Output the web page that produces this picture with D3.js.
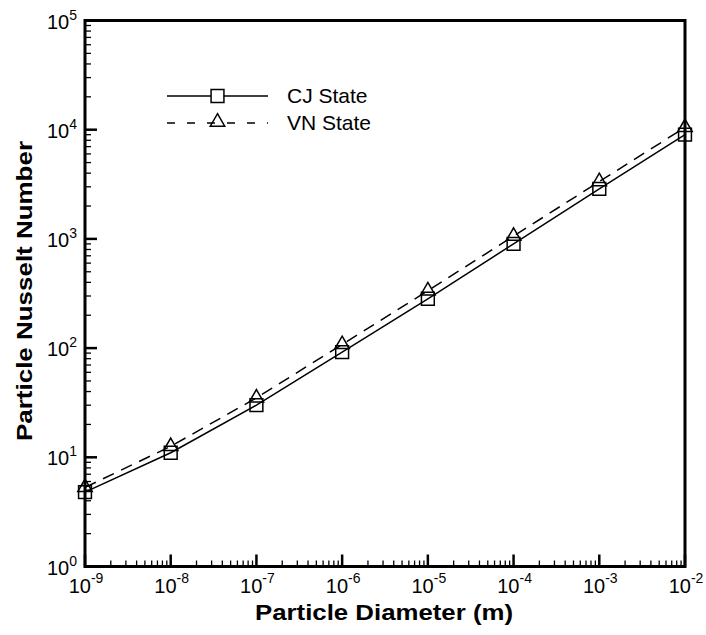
<!DOCTYPE html>
<html>
<head>
<meta charset="utf-8">
<script src="https://cdn.jsdelivr.net/npm/d3@7"></script>
<style>
  body { margin: 0; background: #fff; }
  text { font-family: "Liberation Sans", Arial, sans-serif; }
</style>
</head>
<body>
<svg width="706" height="635"></svg>
<script>
// data
var diameters = [1e-9, 1e-8, 1e-7, 1e-6, 1e-5, 1e-4, 1e-3, 1e-2];
var cjNusselt = [4.8, 11, 30, 92, 283, 900, 2870, 9000];
var vnNusselt = [5.3, 12.6, 35, 108, 335, 1060, 3350, 10500];
var xExponents = [-9, -8, -7, -6, -5, -4, -3, -2];
var yExponents = [0, 1, 2, 3, 4, 5];
var seriesNames = ["CJ State", "VN State"];

var svg = d3.select("svg");
var plotLeft = 85, plotRight = 685, plotTop = 20.5, plotBottom = 566.5;

var x = d3.scaleLog().domain([1e-9, 1e-2]).range([plotLeft, plotRight]);
var y = d3.scaleLog().domain([1, 1e5]).range([plotBottom, plotTop]);

// minor + major ticks, drawn inward
function logTicks(lo, hi) {
    var out = [];
    for (var e = lo; e < hi; e++)
        for (var k = 1; k < 10; k++) out.push({ v: k * Math.pow(10, e), major: k == 1 });
    out.push({ v: Math.pow(10, hi), major: true });
    return out;
}

var g = svg.append("g");

g.selectAll(".xt").data(logTicks(-9, -2)).enter().append("line")
    .attr("x1", d => x(d.v)).attr("x2", d => x(d.v))
    .attr("y1", plotBottom).attr("y2", d => plotBottom - (d.major ? 12 : 6))
    .attr("stroke", "#000").attr("stroke-width", d => d.major ? 2.5 : 1.3);
g.selectAll(".yt").data(logTicks(0, 5)).enter().append("line")
    .attr("y1", d => y(d.v)).attr("y2", d => y(d.v))
    .attr("x1", plotLeft).attr("x2", d => plotLeft + (d.major ? 12 : 6))
    .attr("stroke", "#000").attr("stroke-width", d => d.major ? 2.5 : 1.3);

// frame
g.append("rect").attr("x", plotLeft).attr("y", plotTop)
    .attr("width", plotRight - plotLeft).attr("height", plotBottom - plotTop)
    .attr("fill", "none").attr("stroke", "#000").attr("stroke-width", 3);

// tick labels
var xl = g.selectAll(".xl").data(xExponents).enter().append("text")
    .attr("x", d => x(Math.pow(10, d)) + 1).attr("y", 593)
    .attr("text-anchor", "middle").attr("font-size", 20);
xl.append("tspan").text("10");
xl.append("tspan").attr("dy", -10).attr("font-size", 14).text(d => d);

var yl = g.selectAll(".yl").data(yExponents).enter().append("text")
    .attr("x", 77).attr("y", d => y(Math.pow(10, d)) + 8)
    .attr("text-anchor", "end").attr("font-size", 20);
yl.append("tspan").text("10");
yl.append("tspan").attr("dy", -9).attr("font-size", 14).text(d => d);

// axis titles
svg.append("text").attr("x", 384).attr("y", 620)
    .attr("text-anchor", "middle").attr("font-size", 22).attr("font-weight", "bold")
    .attr("textLength", 258).attr("lengthAdjust", "spacingAndGlyphs")
    .text("Particle Diameter (m)");
svg.append("text").attr("transform", "translate(32,291) rotate(-90)")
    .attr("text-anchor", "middle").attr("font-size", 22).attr("font-weight", "bold")
    .attr("textLength", 300).attr("lengthAdjust", "spacingAndGlyphs")
    .text("Particle Nusselt Number");

var line = d3.line().x(d => x(d[0])).y(d => y(d[1]));
var cj = diameters.map((d, i) => [d, cjNusselt[i]]);
var vn = diameters.map((d, i) => [d, vnNusselt[i]]);

svg.append("path").datum(cj).attr("d", line)
    .attr("fill", "none").attr("stroke", "#000").attr("stroke-width", 1.5);
svg.append("path").datum(vn).attr("d", line)
    .attr("fill", "none").attr("stroke", "#000").attr("stroke-width", 1.5)
    .attr("stroke-dasharray", "12,8");

var sq = d3.symbol().type(d3.symbolSquare).size(165);
var tri = d3.symbol().type(d3.symbolTriangle).size(90);

svg.selectAll(".cj").data(cj).enter().append("path")
    .attr("d", sq)
    .attr("transform", d => "translate(" + x(d[0]) + "," + y(d[1]) + ")")
    .attr("fill", "none").attr("stroke", "#000").attr("stroke-width", 1.5);
svg.selectAll(".vn").data(vn).enter().append("path")
    .attr("d", tri)
    .attr("transform", d => "translate(" + x(d[0]) + "," + y(d[1]) + ")")
    .attr("fill", "none").attr("stroke", "#000").attr("stroke-width", 1.5);

// legend
var lg = svg.append("g");
lg.append("line").attr("x1", 167).attr("x2", 268).attr("y1", 96).attr("y2", 96)
    .attr("stroke", "#000").attr("stroke-width", 1.5);
lg.append("path").attr("d", sq).attr("transform", "translate(217.5,96)")
    .attr("fill", "#fff").attr("stroke", "#000").attr("stroke-width", 1.5);
lg.append("line").attr("x1", 167).attr("x2", 268).attr("y1", 123).attr("y2", 123)
    .attr("stroke", "#000").attr("stroke-width", 1.5).attr("stroke-dasharray", "8,12");
lg.append("path").attr("d", tri).attr("transform", "translate(217.5,122)")
    .attr("fill", "none").attr("stroke", "#000").attr("stroke-width", 1.5);
lg.selectAll(".lt").data(seriesNames).enter().append("text")
    .attr("x", 287).attr("y", (d, i) => 103 + i * 27)
    .attr("font-size", 21).text(d => d);
</script>
</body>
</html>
